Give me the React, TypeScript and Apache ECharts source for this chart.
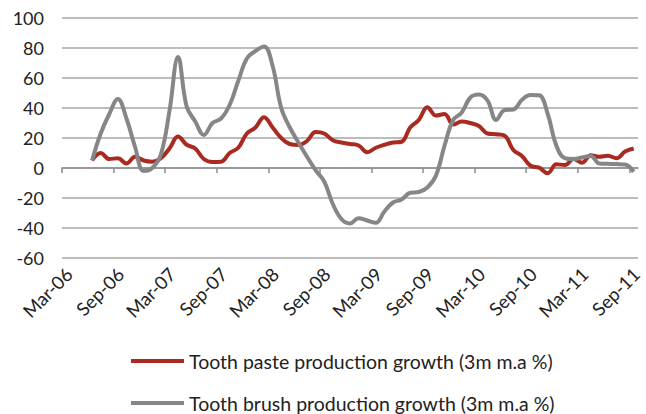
import React, { useEffect, useRef } from "react";
import * as echarts from "echarts";

// Horizontal axis runs in months, 0 = Mar-06; labels every six months.
const tickLabels = [
  "Mar-06", "Sep-06", "Mar-07", "Sep-07", "Mar-08", "Sep-08",
  "Mar-09", "Sep-09", "Mar-10", "Sep-10", "Mar-11", "Sep-11",
];

// First observation is Jun-06 (month index 3); one value per month.
const firstMonth = 3;

const pasteGrowth = [
  5, 10, 6, 6.5, 3, 7.5, 5, 4.2, 6.5, 13,
  21, 15.5, 13, 6, 4, 4.2, 10, 13.5, 23, 27,
  33.8, 27, 20, 16, 15.3, 18, 24, 23, 18.5, 17,
  16, 15, 10.5, 13.5, 15.5, 17, 17.5, 27, 32, 40.5,
  35, 36, 29, 31, 30, 28, 23, 22.5, 21.5, 12,
  8, 1.5, 0.2, -3.5, 2.5, 2, 6, 3.5, 8.5, 7.5,
  8.2, 6.5, 11, 13,
];

const brushGrowth = [
  5, 23, 36, 46, 33, 14, -2, 0, 9, 38,
  74, 41, 31, 22, 30, 33, 42, 58, 73, 78,
  81, 68, 40, 27, 17, 7.5, -1.5, -9, -24, -34,
  -37, -33.5, -35, -36.5, -29, -23, -21, -16.5, -16, -13,
  -5, 15, 32, 37, 47, 49, 45, 32, 38.7, 39,
  45.5, 48.7, 48.5, 36, 15, 6.5, 6, 7, 8, 3,
  2.8, 2.6, 2.3, -2.5,
];

const seriesNames = [
  "Tooth paste production growth (3m m.a %)",
  "Tooth brush production growth (3m m.a %)",
];

const FONT = "Lato, 'Open Sans', sans-serif";
const tickValues = tickLabels.map((_, i) => i * 6);
const MONTHS_SHOWN = 67;

// Monthly values are plotted at mid-month.
const toPoints = (values: number[]) =>
  values.map((v, i) => [firstMonth + i + 0.5, v]);

const legendRow = (name: string, top: number) => ({
  orient: "horizontal",
  left: 126,
  top,
  icon: "rect",
  itemWidth: 53,
  itemHeight: 4,
  itemGap: 6,
  textStyle: { fontFamily: FONT, fontSize: 19.5, color: "#222", lineHeight: 24 },
  data: [name],
});

export default function App() {
  const ref = useRef<HTMLDivElement>(null);

  useEffect(() => {
    if (!ref.current) return;
    const chart = echarts.init(ref.current, null, { renderer: "svg" });
    chart.setOption({
      animation: false,
      backgroundColor: "#ffffff",
      grid: { left: 62, right: 8, top: 18, bottom: 156, outerBoundsMode: "none", containLabel: false },
      legend: [legendRow(seriesNames[0], 344), legendRow(seriesNames[1], 386)],
      xAxis: [
        {
          // zero line with its tick marks
          type: "value",
          min: 0,
          max: MONTHS_SHOWN,
          interval: 6,
          position: "bottom",
          axisLine: { show: true, onZero: true, lineStyle: { color: "#8c8c8c", width: 1.5 } },
          axisTick: { show: true, length: 5, customValues: tickValues, lineStyle: { color: "#8c8c8c", width: 1.5 } },
          axisLabel: { show: false },
          splitLine: { show: false },
        },
        {
          // date labels along the bottom edge, hanging just past their tick
          type: "value",
          min: 0,
          max: MONTHS_SHOWN,
          interval: 6,
          position: "bottom",
          axisLine: { show: false, onZero: false },
          axisTick: { show: false },
          splitLine: { show: false },
          axisLabel: {
            show: true,
            rotate: 45,
            margin: 6,
            align: "right",
            verticalAlign: "top",
            lineHeight: 20,
            customValues: tickValues,
            fontFamily: FONT,
            fontSize: 18.5,
            color: "#222",
            formatter: (v: number) => (v % 6 === 0 ? tickLabels[v / 6] ?? "" : ""),
          },
        },
      ],
      yAxis: {
        type: "value",
        min: -60,
        max: 100,
        interval: 20,
        axisLine: { show: false },
        axisTick: { show: false },
        axisLabel: { margin: 18, fontFamily: FONT, fontSize: 18, color: "#222" },
        splitLine: { lineStyle: { color: "#a6a6a6", width: 1.5 } },
      },
      series: [
        {
          name: seriesNames[0],
          type: "line",
          xAxisIndex: 0,
          data: toPoints(pasteGrowth),
          smooth: 0.4,
          showSymbol: false,
          color: "#a82a20",
          lineStyle: { width: 4, color: "#a82a20" },
        },
        {
          name: seriesNames[1],
          type: "line",
          xAxisIndex: 0,
          data: toPoints(brushGrowth),
          smooth: 0.4,
          showSymbol: false,
          color: "#868686",
          lineStyle: { width: 4, color: "#868686" },
        },
      ],
    });
    return () => chart.dispose();
  }, []);

  return (
    <div
      ref={ref}
      style={{ position: "fixed", left: 0, top: 0, width: 646, height: 414, background: "#fff" }}
    />
  );
}
